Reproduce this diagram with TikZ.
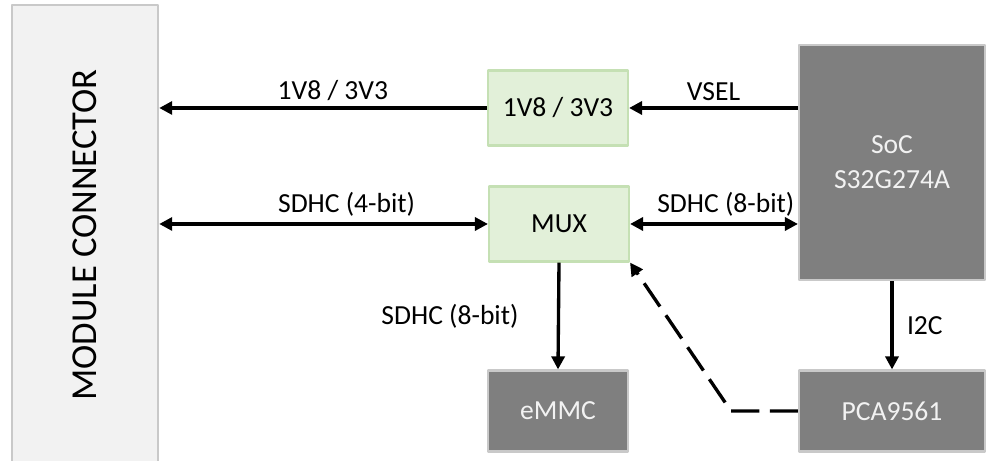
\documentclass[tikz,border=0pt]{standalone}
\usepackage{fontspec}
\setmainfont{Carlito}
\usetikzlibrary{positioning,arrows.meta}
\definecolor{regfill}{HTML}{E2F0D9}
\definecolor{regline}{HTML}{C5E0B4}
\definecolor{chipfill}{HTML}{7F7F7F}
\definecolor{chipline}{HTML}{C9C9C9}
\definecolor{connfill}{HTML}{F2F2F2}
\begin{document}
\begin{tikzpicture}[font=\fontsize{15.7}{20}\selectfont,line join=round,>={Triangle[length=7.4pt,width=7.4pt]}]
				\tikzset{greenbox/.style={draw=regline,fill=regfill,line width=1.2pt,minimum width=2.8cm,minimum height=1.5cm,inner sep=0pt}}
				\tikzset{chipbox/.style={draw=chipline,fill=chipfill,text=connfill,line width=1.2pt,inner sep=0pt,align=center}}
				\tikzset{link/.style={line width=1.9pt}}
				\useasboundingbox (0,0) rectangle (19.74,9.22);
				\node[draw=chipline,fill=connfill,line width=1.4pt,minimum width=2.92cm,minimum height=9.2cm,inner sep=0pt] (conn) at (1.70,4.52) {};
				\node[rotate=90,font=\fontsize{20.8}{25}\selectfont] (connlabel) at (conn.center) {MODULE CONNECTOR};
				\node[greenbox] (reg) at (11.16,7.06) {1V8 / 3V3};
				\node[greenbox] (mux) at (11.18,4.74) {MUX};
				\node[chipbox,minimum width=3.72cm,minimum height=4.7cm] (soc) at (17.84,5.97) {SoC\\S32G274A};
				\node[chipbox,minimum width=2.8cm,minimum height=1.62cm] (emmc) at (11.16,1.0) {eMMC};
				\node[chipbox,minimum width=3.72cm,minimum height=1.62cm] (pca) at (17.84,1.0) {PCA9561};
				\coordinate (bend) at ([xshift=-1.34cm]pca.west);
				\draw[link,->] (reg.west) -- (conn.east |- reg.west) node[pos=0.47,above]{1V8 / 3V3};
				\draw[link,<->] (mux.west) -- (conn.east |- mux.west) node[pos=0.43,above]{SDHC (4-bit)};
				\draw[link,->] (soc.west |- reg) -- (reg.east) node[midway,above]{VSEL};
				\draw[link,<->] (mux.east) -- (soc.west |- mux) node[pos=0.57,above]{SDHC (8-bit)};
				\draw[link,->] (mux.south) -- (emmc.north) node[midway,left=0.65cm]{SDHC (8-bit)};
				\draw[link,->] (soc.south) -- (pca.north) node[midway,right=0.15cm]{I2C};
				\draw[link,->,dash pattern=on 16pt off 6pt] (pca.west) -- (bend) -- (mux.south east);
			\end{tikzpicture}
\end{document}
